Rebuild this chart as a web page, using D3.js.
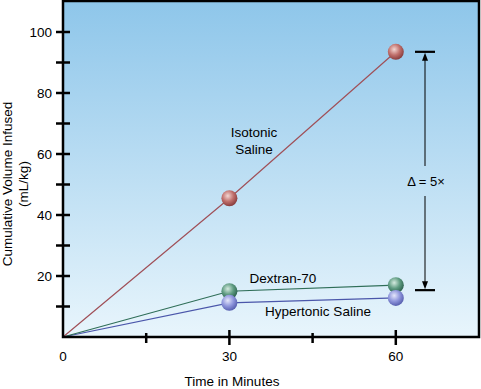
<!DOCTYPE html>
<html><head><meta charset="utf-8">
<script src="https://cdn.jsdelivr.net/npm/d3@7"></script>
<style>body{margin:0;background:#fff}svg{display:block;font-family:"Liberation Sans",Arial,Helvetica,sans-serif}</style>
</head><body><svg id="c" width="481" height="389"></svg>
<script>
const times = [0, 30, 60];
const isotonic = [0, 45.5, 93.5];
const dextran = [0, 15, 17];
const hypertonic = [0, 11.2, 12.8];
const yTicks = [20, 40, 60, 80, 100];
const yMinor = [10, 30, 50, 70, 90];
const xTicks = [0, 30, 60];
const xMinor = [15, 45];

const svg = d3.select("#c");
const L = 63, R = 479, T = 1, B = 337;
const x = d3.scaleLinear().domain([0, 75]).range([L, R]);
const y = d3.scaleLinear().domain([0, 110]).range([B, B - 110 * 3.05]);

const defs = svg.append("defs");
const bg = defs.append("linearGradient").attr("id", "bg").attr("x1", 0).attr("y1", 0).attr("x2", 0).attr("y2", 1);
bg.append("stop").attr("offset", "0%").attr("stop-color", "#8ec6ea");
bg.append("stop").attr("offset", "100%").attr("stop-color", "#e8f5fc");
function ball(id, light, mid, dark) {
  const g = defs.append("radialGradient").attr("id", id).attr("cx", "40%").attr("cy", "35%").attr("r", "65%");
  g.append("stop").attr("offset", "0%").attr("stop-color", light);
  g.append("stop").attr("offset", "55%").attr("stop-color", mid);
  g.append("stop").attr("offset", "100%").attr("stop-color", dark);
}
ball("bIso", "#f3d6d2", "#c0706c", "#8a3e3e");
ball("bDex", "#d4eadf", "#5f9c82", "#2e6450");
ball("bHyp", "#e4e6fa", "#8f96dc", "#5860b0");

svg.append("rect").attr("x", L).attr("y", T).attr("width", R - L).attr("height", B - T).attr("fill", "url(#bg)");

const line = d3.line().x((d, i) => x(times[i])).y(d => y(d));
const series = [
  {v: hypertonic, c: "#4a56aa", b: "bHyp"},
  {v: dextran, c: "#2f6e58", b: "bDex"},
  {v: isotonic, c: "#a05058", b: "bIso"}
];
series.forEach(s => {
  svg.append("path").attr("d", line(s.v)).attr("fill", "none").attr("stroke", s.c).attr("stroke-width", 1.2);
});
[series[1], series[0], series[2]].forEach(s => {
  svg.selectAll(null).data(s.v.slice(1)).enter().append("circle")
    .attr("cx", (d, i) => x(times[i + 1])).attr("cy", d => y(d)).attr("r", 8)
    .attr("fill", "url(#" + s.b + ")");
});

// frame
svg.append("rect").attr("x", L).attr("y", T).attr("width", R - L).attr("height", B - T)
  .attr("fill", "none").attr("stroke", "#000").attr("stroke-width", 2.5);

const tk = svg.append("g").attr("stroke", "#000").attr("stroke-width", 2.5);
yTicks.concat(yMinor).forEach(v => {
  tk.append("line").attr("x1", L - 7).attr("x2", L + 7).attr("y1", y(v)).attr("y2", y(v));
});
xTicks.slice(1).forEach(v => {
  tk.append("line").attr("x1", x(v)).attr("x2", x(v)).attr("y1", B - 7).attr("y2", B + 8);
});
xMinor.forEach(v => {
  tk.append("line").attr("x1", x(v)).attr("x2", x(v)).attr("y1", B - 4).attr("y2", B + 6);
});
svg.selectAll(null).data(yTicks).enter().append("text")
  .attr("x", L - 11).attr("y", d => y(d) + 5).attr("text-anchor", "end")
  .attr("font-size", 13.5).text(d => d);
svg.selectAll(null).data(xTicks).enter().append("text")
  .attr("x", d => x(d)).attr("y", B + 24).attr("text-anchor", "middle")
  .attr("font-size", 13.5).text(d => d);

svg.append("text").attr("x", 232).attr("y", 386).attr("text-anchor", "middle").attr("font-size", 13.5).text("Time in Minutes");
const yl = svg.append("text").attr("transform", "translate(12,184) rotate(-90)").attr("text-anchor", "middle").attr("font-size", 13.5);
yl.append("tspan").attr("x", 0).attr("dy", 0).text("Cumulative Volume Infused");
yl.append("tspan").attr("x", 0).attr("dy", 16).text("(mL/kg)");

const lab = svg.append("g").attr("font-size", 13.5).attr("text-anchor", "middle");
lab.append("text").attr("x", 254).attr("y", 137).text("Isotonic");
lab.append("text").attr("x", 254).attr("y", 154).text("Saline");
lab.append("text").attr("x", 283).attr("y", 283).text("Dextran-70");
lab.append("text").attr("x", 318).attr("y", 316).text("Hypertonic Saline");

const bx = 425;
const yTop = y(isotonic[2]), yBot = y(dextran[2]) + 5;
const br = svg.append("g").attr("stroke", "#000");
br.append("line").attr("x1", bx - 10).attr("x2", bx + 10).attr("y1", yTop).attr("y2", yTop).attr("stroke-width", 2.2);
br.append("line").attr("x1", bx - 10).attr("x2", bx + 10).attr("y1", yBot).attr("y2", yBot).attr("stroke-width", 2.2);
br.append("line").attr("x1", bx).attr("x2", bx).attr("y1", yTop + 6).attr("y2", 166).attr("stroke-width", 1);
br.append("line").attr("x1", bx).attr("x2", bx).attr("y1", 196).attr("y2", yBot - 6).attr("stroke-width", 1);
svg.append("path").attr("d", `M${bx},${yTop + 1}l-3,8h6z`).attr("fill", "#000");
svg.append("path").attr("d", `M${bx},${yBot - 1}l-3,-8h6z`).attr("fill", "#000");
svg.append("text").attr("x", bx + 1).attr("y", 186).attr("text-anchor", "middle").attr("font-size", 13).text("Δ = 5×");
</script></body></html>
